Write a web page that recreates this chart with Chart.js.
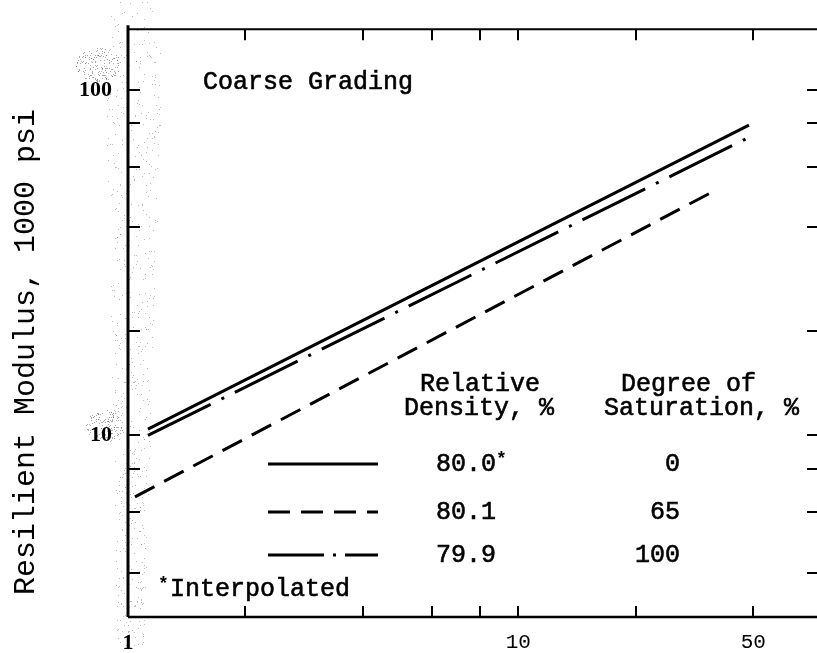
<!DOCTYPE html>
<html>
<head>
<meta charset="utf-8">
<script src="https://cdn.jsdelivr.net/npm/chart.js@4/dist/chart.umd.min.js"></script>
<style>
  html, body { margin: 0; padding: 0; background: #fff; overflow: hidden; }
  #wrap { width: 822px; height: 653px; }
</style>
</head>
<body>
<div id="wrap"><canvas id="c" width="822" height="653"></canvas></div>
<script>
// Resilient modulus curves, coarse grading (log-log)
const dryX = [1.125, 39.0];
const dryY = [10.43, 79.1];
const partialX = [1.042, 30.8];
const partialY = [6.64, 50.1];
const saturatedX = [1.125, 40.2];
const saturatedY = [10.0, 74.2];

// legend table rows
const relativeDensity = ['80.0', '80.1', '79.9'];
const densityFootnote = [true, false, false];
const saturation = ['0', '65', '100'];

// axis ticks
const xTickValues = [1, 2, 4, 6, 8, 10, 20, 40];
const xTickLabels = ['1', '', '', '', '', '10', '', '50'];
const yTickValues = [4, 6, 8, 10, 20, 40, 60, 80, 100];
const yTickLabels = ['', '', '', '10', '', '', '', '', '100'];

const MONO = '"Liberation Mono", "DejaVu Sans Mono", monospace';
const SERIF = '"Liberation Serif", "DejaVu Serif", serif';

const solidDash = [];
const dashedDash = [22, 11];
const dashDotDash = [70, 12, 3, 12];

const toPoints = (xs, ys) => xs.map((x, i) => ({ x: x, y: ys[i] }));

function seg(ctx, x1, y1, x2, y2) {
  ctx.beginPath();
  ctx.moveTo(x1, y1);
  ctx.lineTo(x2, y2);
  ctx.stroke();
}

// typewriter-weight text: fill plus a thin outline
function typeText(ctx, s, x, y) {
  ctx.fillText(s, x, y);
  ctx.lineWidth = 0.6;
  ctx.strokeText(s, x, y);
}

// small deterministic hash for the copy-grain stipple along the left edge
function hash(n) {
  const s = Math.sin(n * 12.9898 + 78.233) * 43758.5453;
  return s - Math.floor(s);
}

const grainPlugin = {
  id: 'grain',
  beforeDraw(chart) {
    const ctx = chart.ctx;
    ctx.save();
    ctx.fillStyle = 'rgba(110,110,110,0.45)';
    // sparse specks on both sides of the left axis, wider near the top
    for (let i = 0; i < 650; i++) {
      const y = hash(i) * 645;
      const spread = 40 - y * 0.035;
      const off = (hash(i + 5000) - 0.4) * spread * 1.5;
      ctx.fillRect(Math.round(128 + off), Math.round(y), 1, 1);
    }
    // clouds behind the decade labels
    ctx.fillStyle = 'rgba(90,90,90,0.5)';
    [[98, 64, 22, 18, 170], [104, 426, 18, 16, 130]].forEach((b, k) => {
      for (let i = 0; i < b[4]; i++) {
        const a = hash(i * 3 + k * 911) * Math.PI * 2;
        const r = Math.sqrt(hash(i * 7 + k * 577 + 3));
        ctx.fillRect(Math.round(b[0] + Math.cos(a) * r * b[2]), Math.round(b[1] + Math.sin(a) * r * b[3]), 1, 1);
      }
    });
    ctx.restore();
  }
};

const framePlugin = {
  id: 'frame',
  afterDraw(chart) {
    const ctx = chart.ctx;
    const a = chart.chartArea;
    const xs = chart.scales.x;
    const ys = chart.scales.y;
    ctx.save();
    ctx.strokeStyle = '#000';
    ctx.fillStyle = '#000';
    ctx.lineCap = 'butt';

    // frame
    ctx.lineWidth = 3;
    seg(ctx, a.left, a.top - 4, a.left, a.bottom + 1);
    ctx.lineWidth = 2;
    seg(ctx, a.left, a.top, a.right, a.top);
    ctx.lineWidth = 2.5;
    seg(ctx, a.left, a.bottom + 1, a.right, a.bottom + 1);

    // inward tick marks
    ctx.lineWidth = 2;
    xTickValues.forEach(v => {
      if (v <= xs.min) return;
      const px = Math.round(xs.getPixelForValue(v));
      seg(ctx, px, a.top, px, a.top + 11);
      seg(ctx, px, a.bottom, px, a.bottom - 10);
    });
    yTickValues.forEach(v => {
      const py = Math.round(ys.getPixelForValue(v));
      seg(ctx, a.left, py, a.left + 12, py);
      seg(ctx, a.right, py, a.right - 15, py);
    });

    // rotated axis title
    ctx.save();
    ctx.translate(26, 352);
    ctx.rotate(-Math.PI / 2);
    ctx.font = '30px ' + MONO;
    ctx.textAlign = 'center';
    ctx.textBaseline = 'middle';
    ctx.fillText('Resilient Modulus, 1000 psi', 0, 0);
    ctx.restore();

    // panel label
    ctx.font = '25px ' + MONO;
    ctx.textAlign = 'left';
    ctx.textBaseline = 'middle';
    typeText(ctx, 'Coarse Grading', 203, 82);

    // legend table headers
    typeText(ctx, 'Relative', 420, 384);
    typeText(ctx, 'Density, %', 404, 408);
    typeText(ctx, 'Degree of', 621, 384);
    typeText(ctx, 'Saturation, %', 604, 408);

    // legend rows
    const rowY = [464, 512, 555];
    const dashes = [solidDash, dashedDash, [56, 9, 3, 9]];
    rowY.forEach((yy, i) => {
      ctx.lineWidth = 3;
      ctx.setLineDash(dashes[i]);
      seg(ctx, 268, yy, 378, yy);
      ctx.setLineDash([]);
      ctx.font = '25px ' + MONO;
      ctx.textAlign = 'left';
      typeText(ctx, relativeDensity[i], 436, yy);
      if (densityFootnote[i]) {
        const w = ctx.measureText(relativeDensity[i]).width;
        ctx.font = 'bold 18px ' + MONO;
        ctx.fillText('*', 436 + w, yy - 5);
        ctx.font = '25px ' + MONO;
      }
      ctx.textAlign = 'right';
      typeText(ctx, saturation[i], 680, yy);
    });

    // footnote
    ctx.textAlign = 'left';
    ctx.font = 'bold 18px ' + MONO;
    ctx.fillText('*', 158, 584);
    ctx.font = '25px ' + MONO;
    typeText(ctx, 'Interpolated', 170, 589);

    ctx.restore();
  }
};

const lineStyle = {
  borderColor: '#000',
  borderWidth: 3,
  pointRadius: 0,
  fill: false,
  tension: 0,
  borderCapStyle: 'butt'
};

new Chart(document.getElementById('c').getContext('2d'), {
  type: 'line',
  data: {
    datasets: [
      Object.assign({ label: '80.0 / 0', data: toPoints(dryX, dryY), borderDash: solidDash }, lineStyle),
      Object.assign({ label: '80.1 / 65', data: toPoints(partialX, partialY), borderDash: dashedDash }, lineStyle),
      Object.assign({ label: '79.9 / 100', data: toPoints(saturatedX, saturatedY), borderDash: dashDotDash }, lineStyle)
    ]
  },
  options: {
    responsive: false,
    animation: false,
    devicePixelRatio: 1,
    layout: { padding: { top: 10, right: 0, left: 0, bottom: 0 } },
    plugins: { legend: { display: false }, tooltip: { enabled: false } },
    scales: {
      x: {
        type: 'logarithmic',
        position: 'bottom',
        min: 1,
        max: 60,
        grid: { display: false, drawTicks: false },
        border: { display: false },
        afterBuildTicks: s => { s.ticks = xTickValues.map(v => ({ value: v })); },
        afterFit: s => { s.height = 37; },
        ticks: {
          autoSkip: false,
          maxRotation: 0,
          minRotation: 0,
          padding: 14,
          color: '#000',
          callback: (v, i) => xTickLabels[i],
          font: c => (c.tick && c.tick.value === 1)
            ? { family: SERIF, size: 22, weight: 'bold' }
            : { family: MONO, size: 21 }
        }
      },
      y: {
        type: 'logarithmic',
        position: 'left',
        min: 3,
        max: 150,
        grid: { display: false, drawTicks: false },
        border: { display: false },
        afterBuildTicks: s => { s.ticks = yTickValues.map(v => ({ value: v })); },
        afterFit: s => { s.width = 128; },
        ticks: {
          autoSkip: false,
          padding: 16,
          color: '#000',
          callback: (v, i) => yTickLabels[i],
          font: { family: SERIF, size: 22, weight: 'bold' }
        }
      }
    }
  },
  plugins: [grainPlugin, framePlugin]
});
</script>
</body>
</html>
